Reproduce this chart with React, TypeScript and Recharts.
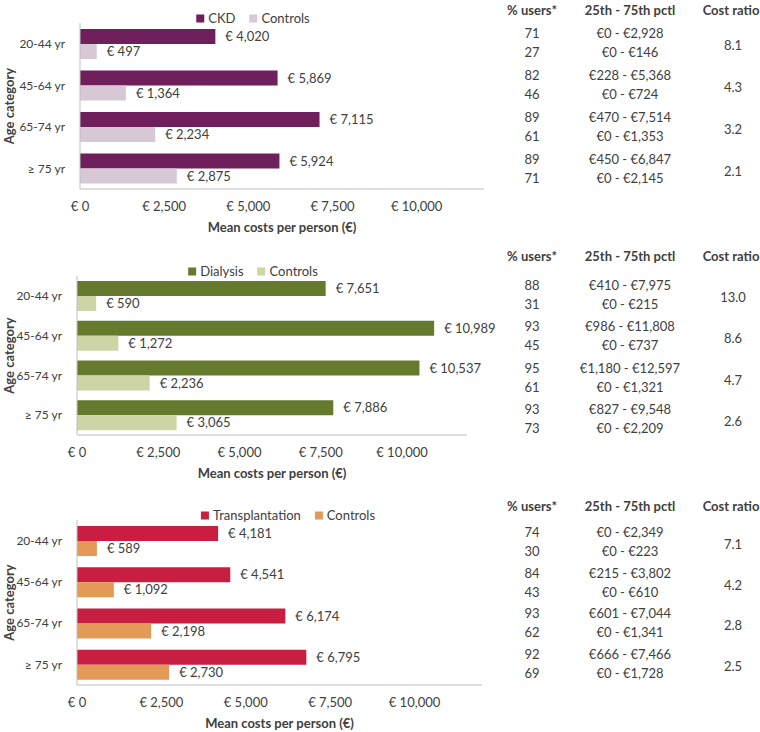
import React from 'react';
import { BarChart, Bar, XAxis, YAxis, LabelList, Label } from 'recharts';

const ageGroups = ['20-44 yr', '45-64 yr', '65-74 yr', '≥ 75 yr'];
const xTicks = [0, 2500, 5000, 7500, 10000];

const ckdCosts = [4020, 5869, 7115, 5924];
const ckdControlCosts = [497, 1364, 2234, 2875];
const dialysisCosts = [7651, 10989, 10537, 7886];
const dialysisControlCosts = [590, 1272, 2236, 3065];
const transplantCosts = [4181, 4541, 6174, 6795];
const transplantControlCosts = [589, 1092, 2198, 2730];

// table columns, two rows (patients, controls) per age group
const ckdUsers = ['71', '27', '82', '46', '89', '61', '89', '71'];
const ckdPctl = ['€0 - €2,928', '€0 - €146', '€228 - €5,368', '€0 - €724', '€470 - €7,514', '€0 - €1,353', '€450 - €6,847', '€0 - €2,145'];
const ckdRatio = ['8.1', '4.3', '3.2', '2.1'];

const dialysisUsers = ['88', '31', '93', '45', '95', '61', '93', '73'];
const dialysisPctl = ['€410 - €7,975', '€0 - €215', '€986 - €11,808', '€0 - €737', '€1,180 - €12,597', '€0 - €1,321', '€827 - €9,548', '€0 - €2,209'];
const dialysisRatio = ['13.0', '8.6', '4.7', '2.6'];

const transplantUsers = ['74', '30', '84', '43', '93', '62', '92', '69'];
const transplantPctl = ['€0 - €2,349', '€0 - €223', '€215 - €3,802', '€0 - €610', '€601 - €7,044', '€0 - €1,341', '€666 - €7,466', '€0 - €1,728'];
const transplantRatio = ['7.1', '4.2', '2.8', '2.5'];

const TEXT = '#404040';
const AXIS = '#bfbfbf';

const fmt = (v: number) => `€ ${v.toLocaleString('en-US')}`;

interface PanelProps {
  name: string;
  patient: number[];
  control: number[];
  colors: [string, string];
  users: string[];
  pctl: string[];
  ratio: string[];
  top: number;
  plotLeft: number;
  plotRight: number;
  plotTop: number;
  plotBottom: number;
  legendX: number;
  legendY: number;
  headerY: number;
  rowY: number;
  groupStep: number;
}

const Centered = ({ x, y, children, bold }: any) => (
  <div
    style={{
      position: 'absolute',
      left: x,
      top: y,
      transform: 'translate(-50%, -50%)',
      whiteSpace: 'nowrap',
      fontWeight: bold ? 700 : 400,
      color: TEXT,
      fontSize: 13,
      lineHeight: 1,
    }}
  >
    {children}
  </div>
);

function Panel(p: PanelProps) {
  const data = ageGroups.map((age, i) => ({ age, patient: p.patient[i], control: p.control[i] }));
  const chartWidth = 520;
  const xAxisHeight = 54;
  const marginLeft = 20;
  const height = p.plotBottom - p.top + xAxisHeight;

  return (
    <>
      <div style={{ position: 'absolute', left: 0, top: p.top }}>
        <BarChart
          width={chartWidth}
          height={height}
          data={data}
          layout="vertical"
          barGap={0}
          margin={{ top: p.plotTop - p.top, right: chartWidth - p.plotRight, bottom: 0, left: marginLeft }}
        >
          <XAxis
            type="number"
            domain={[0, 12000]}
            ticks={xTicks}
            tickFormatter={fmt}
            tickLine={false}
            tickMargin={7}
            stroke={AXIS}
            height={xAxisHeight}
            tick={{ fill: TEXT, fontSize: 13 }}
          >
            <Label
              content={(lp: any) => (
                <text
                  x={lp.viewBox.x + lp.viewBox.width / 2}
                  y={lp.viewBox.y + 38}
                  textAnchor="middle"
                  dominantBaseline="central"
                  fill={TEXT}
                  fontSize={13}
                  fontWeight={700}
                >
                  Mean costs per person (€)
                </text>
              )}
            />
          </XAxis>
          <YAxis
            type="category"
            dataKey="age"
            width={p.plotLeft - marginLeft}
            tickLine={false}
            tickMargin={9}
            stroke={AXIS}
            tick={{ fill: TEXT, fontSize: 12 }}
          >
            <Label
              content={(lp: any) => {
                const cx = 9;
                const cy = lp.viewBox.y + lp.viewBox.height / 2;
                return (
                  <text
                    x={cx}
                    y={cy}
                    transform={`rotate(-90 ${cx} ${cy})`}
                    textAnchor="middle"
                    dominantBaseline="central"
                    fill={TEXT}
                    fontSize={13}
                    fontWeight={700}
                  >
                    Age category
                  </text>
                );
              }}
            />
          </YAxis>
          <Bar dataKey="patient" fill={p.colors[0]} barSize={15} isAnimationActive={false}>
            <LabelList dataKey="patient" position="right" offset={10} formatter={fmt as any} fill={TEXT} fontSize={13} />
          </Bar>
          <Bar dataKey="control" fill={p.colors[1]} barSize={15} isAnimationActive={false}>
            <LabelList dataKey="control" position="right" offset={10} formatter={fmt as any} fill={TEXT} fontSize={13} />
          </Bar>
        </BarChart>
      </div>

      {/* legend */}
      <div
        style={{
          position: 'absolute',
          left: p.legendX,
          top: p.legendY,
          transform: 'translate(-50%, -50%)',
          display: 'flex',
          alignItems: 'center',
          gap: 14,
          fontSize: 13,
          color: TEXT,
          whiteSpace: 'nowrap',
          lineHeight: 1,
        }}
      >
        {[p.name, 'Controls'].map((n, i) => (
          <div key={n} style={{ display: 'flex', alignItems: 'center', gap: 4 }}>
            <span style={{ display: 'inline-block', width: 8, height: 8, background: p.colors[i] }} />
            <span>{n}</span>
          </div>
        ))}
      </div>

      {/* table */}
      <Centered x={532} y={p.headerY} bold>% users*</Centered>
      <Centered x={630} y={p.headerY} bold>25th - 75th pctl</Centered>
      <Centered x={731} y={p.headerY} bold>Cost ratio</Centered>
      {p.users.map((u, i) => {
        const y = p.rowY + Math.floor(i / 2) * p.groupStep + (i % 2) * 19;
        return (
          <React.Fragment key={i}>
            <Centered x={532} y={y}>{u}</Centered>
            <Centered x={630} y={y}>{p.pctl[i]}</Centered>
          </React.Fragment>
        );
      })}
      {p.ratio.map((r, g) => (
        <Centered key={g} x={733} y={p.rowY + g * p.groupStep + 12}>{r}</Centered>
      ))}
    </>
  );
}

export default function App() {
  return (
    <div
      style={{
        position: 'absolute',
        left: 0,
        top: 0,
        width: 760,
        height: 732,
        background: '#fff',
        fontFamily: 'Lato, sans-serif',
        overflow: 'hidden',
      }}
    >
      <Panel
        name="CKD"
        patient={ckdCosts}
        control={ckdControlCosts}
        colors={['#6e1f5c', '#d7c8d6']}
        users={ckdUsers}
        pctl={ckdPctl}
        ratio={ckdRatio}
        top={0}
        plotLeft={80}
        plotRight={484}
        plotTop={23}
        plotBottom={189}
        legendX={253}
        legendY={18}
        headerY={10}
        rowY={33}
        groupStep={42}
      />
      <Panel
        name="Dialysis"
        patient={dialysisCosts}
        control={dialysisControlCosts}
        colors={['#667a2d', '#cdd5a6']}
        users={dialysisUsers}
        pctl={dialysisPctl}
        ratio={dialysisRatio}
        top={240}
        plotLeft={77}
        plotRight={467}
        plotTop={276}
        plotBottom={435}
        legendX={253}
        legendY={271}
        headerY={256}
        rowY={285}
        groupStep={41.3}
      />
      <Panel
        name="Transplantation"
        patient={transplantCosts}
        control={transplantControlCosts}
        colors={['#c81e42', '#e49a57']}
        users={transplantUsers}
        pctl={transplantPctl}
        ratio={transplantRatio}
        top={490}
        plotLeft={77}
        plotRight={482}
        plotTop={520}
        plotBottom={685}
        legendX={288}
        legendY={515}
        headerY={506}
        rowY={532}
        groupStep={40.7}
      />
    </div>
  );
}
